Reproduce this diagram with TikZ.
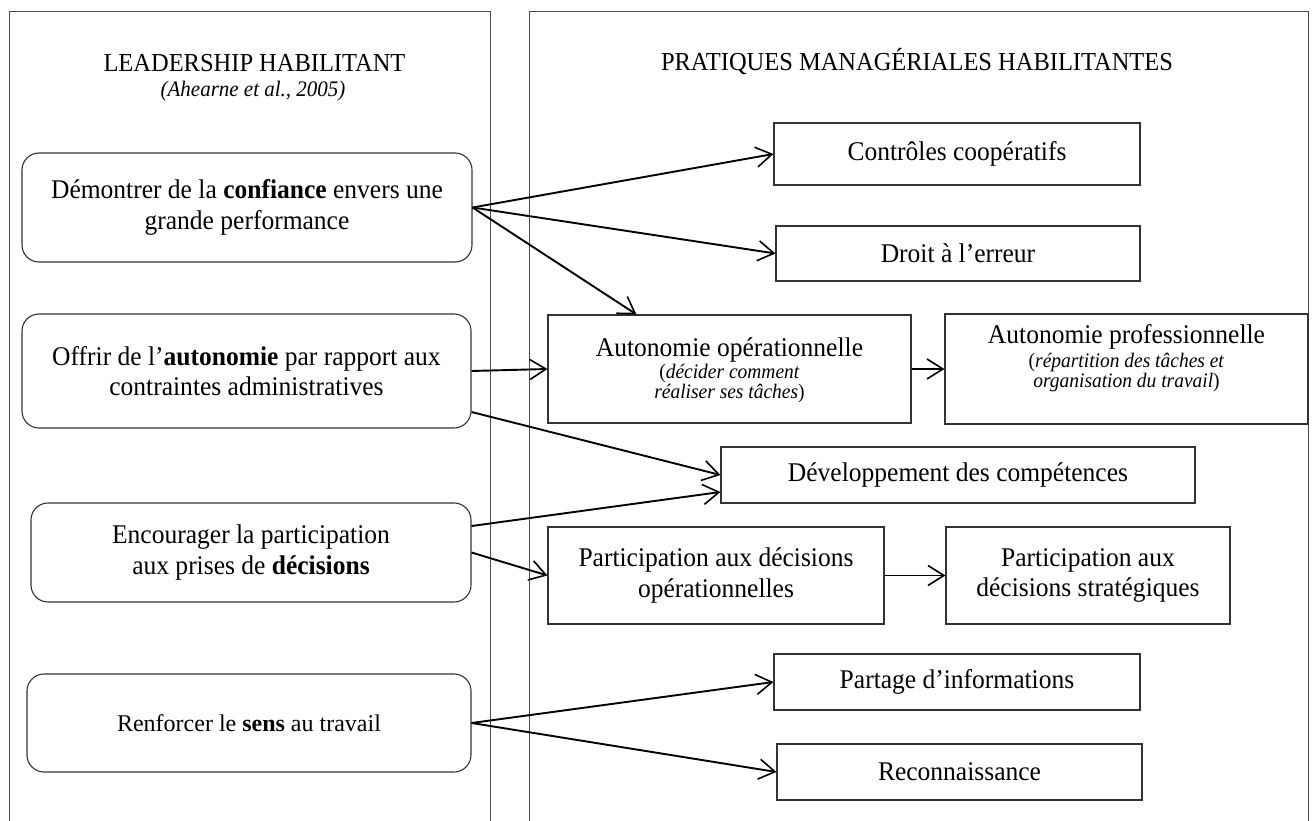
\documentclass[tikz,border=0pt]{standalone}
\usepackage{fontspec}
\setmainfont[FakeStretch=0.945]{Liberation Serif}
\newfontfamily\timesfont{Liberation Serif}
\usetikzlibrary{arrows.meta}
\newcommand{\bodyfs}{\fontsize{27}{30.5}\selectfont}
\newcommand{\timesfs}{\timesfont\fontsize{24}{28}\selectfont}
\newcommand{\subfs}{\fontsize{20.6}{20}\selectfont}
\newcommand{\titlefs}{\fontsize{25.9}{30}\selectfont}
\newcommand{\citefs}{\fontsize{22.2}{25}\selectfont}
\begin{document}
\begin{tikzpicture}[x=1pt,y=-1pt,
  panel/.style={draw=black!70, line width=0.9pt},
  rbox/.style={draw=black!80, line width=1.1pt, rounded corners=17pt, inner sep=0pt},
  sbox/.style={draw=black!80, line width=1.1pt, inner sep=0pt},
  txt/.style={align=center, inner sep=0pt, font=\bodyfs},
  sub/.style={align=center, inner sep=0pt, font=\subfs, anchor=base},
  arr/.style={line width=1.9pt, -{Straight Barb[length=16pt,width=20pt,line width=1.6pt]}}]
\useasboundingbox (0,0) rectangle (1315,821);

% panels
\draw[panel] (9,830) -- (9,11) -- (490,11) -- (490,830);
\draw[panel] (529,830) -- (529,11) -- (1308,11) -- (1308,830);

% titles
\node[anchor=base, inner sep=0pt, font=\titlefs] (t1) at (254.5,72) {LEADERSHIP HABILITANT};
\node[anchor=base, inner sep=0pt, font=\citefs\itshape] (t1c) at (253,97) {(Ahearne et al., 2005)};
\node[anchor=base, inner sep=0pt, font=\titlefs] (t2) at (917,71) {PRATIQUES MANAGÉRIALES HABILITANTES};

% left boxes
\node[rbox, minimum width=450pt, minimum height=109pt] (b1) at (247,207.5) {};
\node[txt] (b1t) at (b1.center) {Démontrer de la \textbf{confiance} envers une\\grande performance};
\node[rbox, minimum width=449pt, minimum height=114pt] (b2) at (246.5,371) {};
\node[txt] (b2t) at (b2.center) {Offrir de l’\textbf{autonomie} par rapport aux\\contraintes administratives};
\node[rbox, minimum width=440pt, minimum height=99pt] (b3) at (251,552.5) {};
\node[txt] (b3t) at (b3.center) {Encourager la participation\\aux prises de \textbf{décisions}};
\node[rbox, minimum width=444pt, minimum height=98pt] (b4) at (249,723) {};
\node[txt, font=\timesfs] (b4t) at (b4.center) {Renforcer le \textbf{sens} au travail};

% right boxes
\node[sbox, minimum width=366pt, minimum height=62pt] (c1) at (957,154) {};
\node[txt] (c1t) at (c1.center) {Contrôles coopératifs};
\node[sbox, minimum width=364pt, minimum height=55pt] (c2) at (958,253.5) {};
\node[txt] (c2t) at (c2.center) {Droit à l’erreur};

\node[sbox, minimum width=363pt, minimum height=108pt] (ao) at (729.5,369) {};
\node[txt, anchor=base] (aot) at (729.5,356) {Autonomie opérationnelle};
\node[sub] (aos1) at (729.5,378) {(\textit{décider comment}};
\node[sub] (aos2) at (729.5,398) {\textit{réaliser ses tâches})};

\node[sbox, minimum width=363pt, minimum height=110pt] (ap) at (1126.5,369) {};
\node[txt, anchor=base] (apt) at (1126.5,343) {Autonomie professionnelle};
\node[sub] (aps1) at (1126.5,367) {(\textit{répartition des tâches et}};
\node[sub] (aps2) at (1126.5,387) {\textit{organisation du travail})};

\node[sbox, minimum width=474pt, minimum height=56pt] (dev) at (958,475) {};
\node[txt] (devt) at (dev.center) {Développement des compétences};

\node[sbox, minimum width=336pt, minimum height=97pt] (po) at (716,575.5) {};
\node[txt] (pot) at (po.center) {Participation aux décisions\\opérationnelles};
\node[sbox, minimum width=284pt, minimum height=97pt] (ps) at (1088,575.5) {};
\node[txt] (pst) at (ps.center) {Participation aux\\décisions stratégiques};

\node[sbox, minimum width=366pt, minimum height=56pt] (pa) at (957,682) {};
\node[txt] (pat) at (pa.center) {Partage d’informations};
\node[sbox, minimum width=365pt, minimum height=56pt] (re) at (959.5,772) {};
\node[txt] (ret) at (re.center) {Reconnaissance};

% connectors
\draw[arr] (b1.east) -- (c1.west);
\draw[arr] (b1.east) -- (c2.west);
\draw[arr] (b1.east) -- ([xshift=89pt]ao.north west);
\draw[arr] (b2.east) -- (ao.west);
\draw[arr] ([yshift=-41pt]b2.east) -- (dev.west);
\draw[arr] ([yshift=26.5pt]b3.east) -- ([yshift=-17pt]dev.west);
\draw[arr] (b3.east) -- (po.west);
\draw[arr] (ao.east) -- (ap.west);
\draw[arr] (po.east) -- (ps.west);
\draw[arr] (b4.east) -- (pa.west);
\draw[arr] (b4.east) -- (re.west);
\end{tikzpicture}
\end{document}
